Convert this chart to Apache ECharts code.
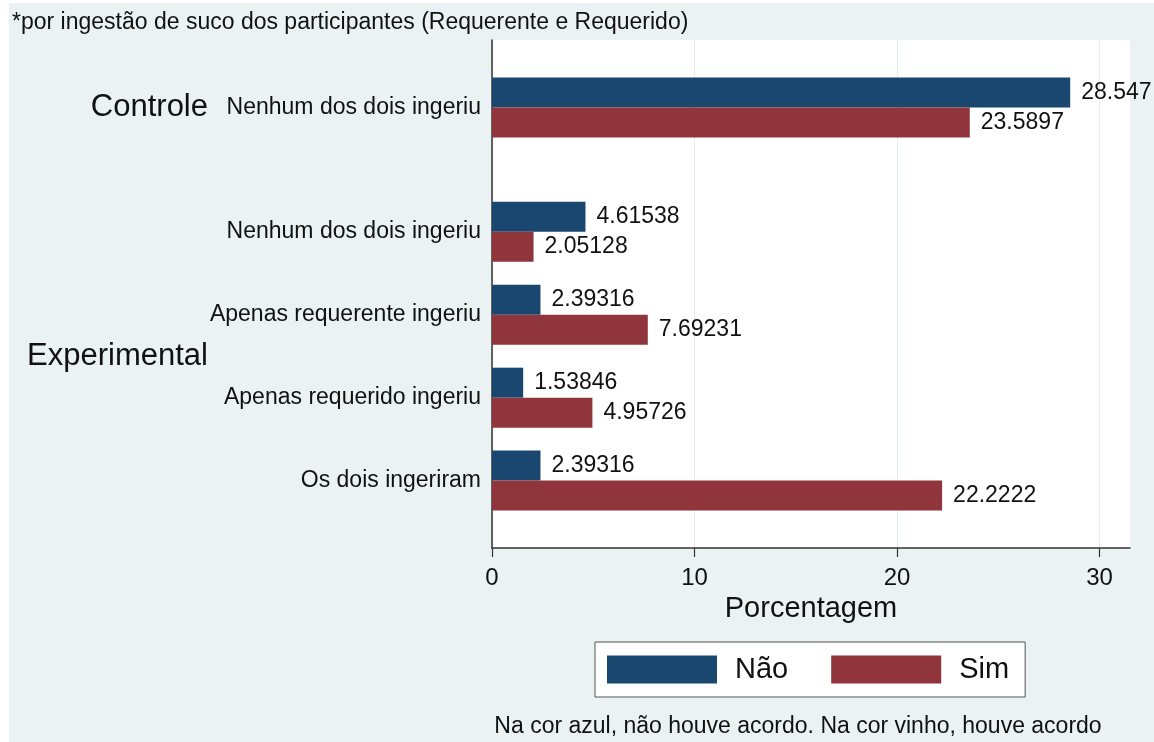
<!DOCTYPE html>
<html lang="pt">
<head>
<meta charset="UTF-8">
<title>Porcentagem</title>
<script src="https://cdn.jsdelivr.net/npm/echarts@6/dist/echarts.min.js"></script>
<style>
  body { margin: 0; background: #fff; }
  #main { position: absolute; left: 9px; top: 3px; width: 1145px; height: 739px; }
</style>
</head>
<body>
<div id="main"></div>
<script>
  // data
  let groupNames = ['Controle', 'Experimental', 'Experimental', 'Experimental', 'Experimental'];
  let categories = ['Nenhum dos dois ingeriu', 'Nenhum dos dois ingeriu', 'Apenas requerente ingeriu',
    'Apenas requerido ingeriu', 'Os dois ingeriram'];
  let naoValues = [28.547, 4.61538, 2.39316, 1.53846, 2.39316];
  let simValues = [23.5897, 2.05128, 7.69231, 4.95726, 22.2222];
  let seriesNames = ['Não', 'Sim'];
  let xTicks = [0, 10, 20, 30];

  // the y axis is cut into thin slots so the gap between the two groups can be wider
  let slotsBefore = 6, slotsPerBar = 8, slotsGroupGap = 12, slotsAfter = 6;
  let slotIdx = [], groupIdx = {}, pos = slotsBefore;
  categories.forEach(function(c, i) {
    if (i > 0) pos += (groupNames[i] == groupNames[i - 1]) ? slotsPerBar : slotsGroupGap;
    slotIdx.push(pos);
    (groupIdx[groupNames[i]] = groupIdx[groupNames[i]] || []).push(pos);
  });
  let slotCount = pos + slotsAfter + 1;

  let yLabels = [], yGroupLabels = [], naoData = [], simData = [];
  for (let k = 0; k < slotCount; k++) {
    yLabels.push(''); yGroupLabels.push(''); naoData.push('-'); simData.push('-');
  }
  slotIdx.forEach(function(s, i) {
    yLabels[s] = categories[i];
    naoData[s] = naoValues[i];
    simData[s] = simValues[i];
  });
  Object.keys(groupIdx).forEach(function(g) {
    let arr = groupIdx[g];
    yGroupLabels[Math.round((arr[0] + arr[arr.length - 1]) / 2)] = g;
  });

  let font = 'Liberation Sans, Arial, sans-serif';
  let myChart = echarts.init(document.getElementById('main'));
  let barLabel = {
    show: true,
    position: 'right',
    distance: 11,
    color: '#111',
    fontSize: 23,
    fontFamily: font
  };
  myChart.setOption({
    animation: false,
    backgroundColor: '#eaf2f3',
    textStyle: { fontFamily: font, color: '#111' },
    title: [{
      text: '*por ingestão de suco dos participantes (Requerente e Requerido)',
      left: 3,
      top: 8,
      padding: 0,
      textStyle: { fontSize: 23, fontWeight: 'normal', color: '#111', fontFamily: font }
    }, {
      text: 'Na cor azul, não houve acordo. Na cor vinho, houve acordo',
      left: 789,
      textAlign: 'center',
      top: 712,
      padding: 0,
      textStyle: { fontSize: 23, fontWeight: 'normal', color: '#111', fontFamily: font }
    }],
    legend: {
      data: seriesNames,
      left: 586,
      top: 639,
      orient: 'horizontal',
      icon: 'rect',
      itemWidth: 110,
      itemHeight: 28,
      itemGap: 43,
      padding: [13, 16, 13, 12],
      backgroundColor: '#fff',
      borderColor: '#555',
      borderWidth: 1,
      borderRadius: 0,
      textStyle: { fontSize: 29, color: '#111', padding: [0, 5, 0, 13], fontFamily: font }
    },
    grid: {
      left: 483,
      right: 24,
      top: 37,
      bottom: 194,
      show: true,
      backgroundColor: '#fff',
      borderWidth: 0
    },
    xAxis: {
      type: 'value',
      min: 0,
      max: 31.5,
      interval: 10,
      name: 'Porcentagem',
      nameLocation: 'middle',
      nameGap: 45,
      nameTextStyle: { fontSize: 29, color: '#111', fontFamily: font },
      axisLine: { show: true, lineStyle: { color: '#333', width: 1.5 } },
      axisTick: { show: true, length: 9, customValues: xTicks, lineStyle: { color: '#333', width: 1.2 } },
      axisLabel: {
        margin: 18,
        fontSize: 24,
        color: '#111',
        fontFamily: font,
        customValues: xTicks
      },
      splitLine: { show: true, lineStyle: { color: '#e4edef', width: 1 } }
    },
    yAxis: [{
      type: 'category',
      data: yLabels,
      inverse: true,
      axisLine: { show: true, lineStyle: { color: '#333', width: 1.5 } },
      axisTick: { show: false },
      splitLine: { show: false },
      axisLabel: { interval: 0, margin: 11, fontSize: 23, color: '#111', fontFamily: font }
    }, {
      type: 'category',
      data: yGroupLabels,
      inverse: true,
      position: 'left',
      axisLine: { show: false },
      axisTick: { show: false },
      splitLine: { show: false },
      axisLabel: { interval: 0, margin: 284, fontSize: 31, color: '#111', fontFamily: font }
    }],
    series: [{
      name: seriesNames[0],
      type: 'bar',
      data: naoData,
      barWidth: 30,
      barGap: '0%',
      itemStyle: { color: '#1a476f' },
      label: barLabel
    }, {
      name: seriesNames[1],
      type: 'bar',
      data: simData,
      barWidth: 30,
      barGap: '0%',
      itemStyle: { color: '#90353b' },
      label: barLabel
    }]
  });
</script>
</body>
</html>
